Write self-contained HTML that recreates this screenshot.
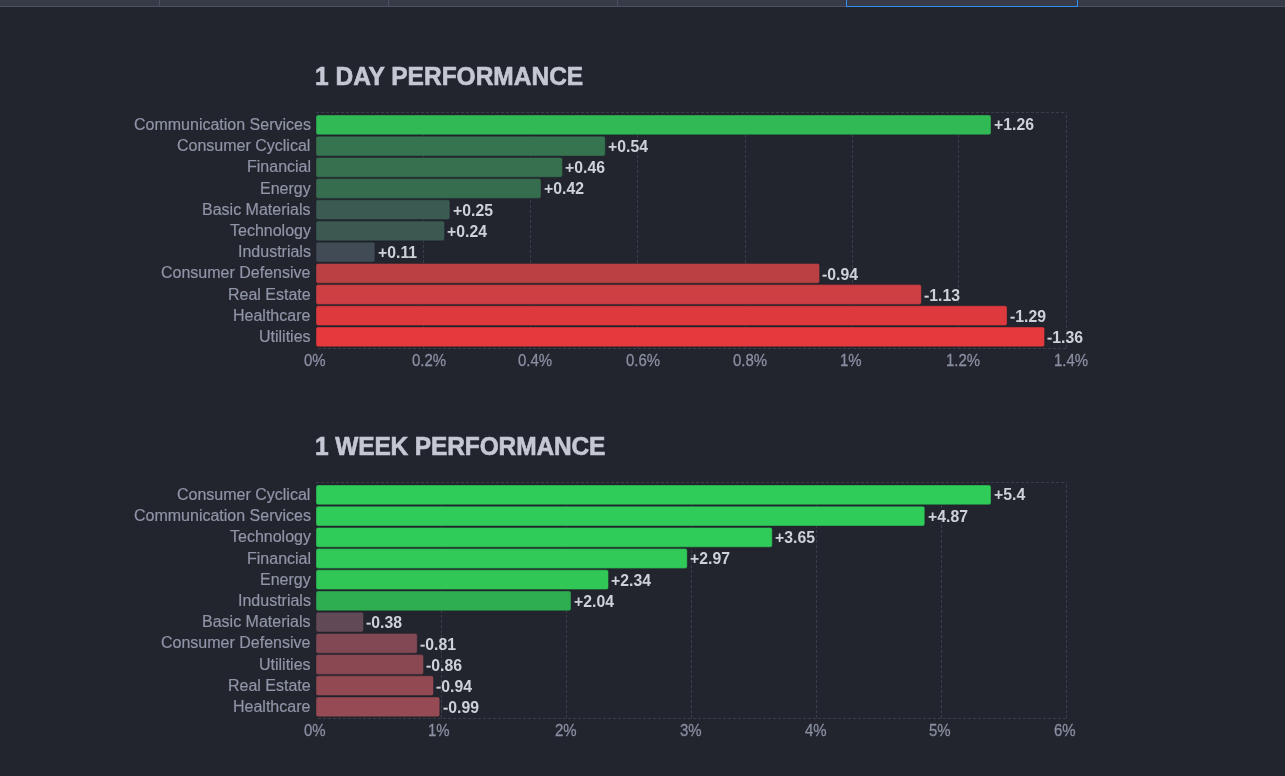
<!DOCTYPE html>
<html><head><meta charset="utf-8"><style>
html,body{margin:0;padding:0;}
body{width:1285px;height:776px;background:#22252e;position:relative;overflow:hidden;font-family:"Liberation Sans",sans-serif;-webkit-font-smoothing:antialiased;}
.tabs{position:absolute;left:0;top:0;width:1285px;height:6px;background:#373a47;border-bottom:1px solid #4b4f61;}
.dv{position:absolute;top:0;width:1px;height:6px;background:#4b4f61;}
.act{position:absolute;top:0;left:846px;width:230px;height:6px;border:1px solid #2f90f0;border-top:0;}
.title{position:absolute;left:315px;font-weight:bold;font-size:24.5px;color:#c5c8d3;line-height:32px;white-space:nowrap;transform:scaleY(1.07);transform-origin:0 24px;-webkit-text-stroke:0.6px #c5c8d3;}
.lab{position:absolute;right:974.3px;font-size:16px;line-height:22px;color:#9095a8;-webkit-text-stroke:0.2px #9095a8;white-space:nowrap;text-align:right;}
.val{position:absolute;font-size:15.8px;font-weight:bold;line-height:22px;color:#cfd1d9;white-space:nowrap;transform:scaleY(1.04);transform-origin:0 16px;}
.tick{position:absolute;font-size:15px;line-height:22px;color:#8a8fa2;white-space:nowrap;transform:scaleY(1.1);transform-origin:0 16px;-webkit-text-stroke:0.25px #8a8fa2;}
.c .g{stroke:#3a3e4b;stroke-width:1;stroke-dasharray:3 2;fill:none;}
span.mn{font-weight:normal;-webkit-text-stroke:0.3px #cfd1d9;} .c .b{stroke:#1e2029;stroke-width:0.4;}
svg{z-index:0} div{z-index:1} .title,.lab,.val,.tick{will-change:transform;}
</style></head><body>
<div class="tabs"></div>
<div class="dv" style="left:159px"></div>
<div class="dv" style="left:388px"></div>
<div class="dv" style="left:617px"></div>
<div class="act"></div>
<div class="title" style="top:61px;letter-spacing:0px">1 DAY PERFORMANCE</div>
<div class="lab" style="top:114.00px">Communication Services</div>
<div class="val" style="top:114.40px;left:993.80px">+1.26</div>
<div class="lab" style="top:135.20px">Consumer Cyclical</div>
<div class="val" style="top:135.70px;left:608.09px">+0.54</div>
<div class="lab" style="top:156.40px">Financial</div>
<div class="val" style="top:157.00px;left:565.23px">+0.46</div>
<div class="lab" style="top:177.60px">Energy</div>
<div class="val" style="top:178.30px;left:543.80px">+0.42</div>
<div class="lab" style="top:198.80px">Basic Materials</div>
<div class="val" style="top:199.60px;left:452.73px">+0.25</div>
<div class="lab" style="top:220.00px">Technology</div>
<div class="val" style="top:220.90px;left:447.37px">+0.24</div>
<div class="lab" style="top:241.20px">Industrials</div>
<div class="val" style="top:242.20px;left:377.73px">+0.11</div>
<div class="lab" style="top:262.40px">Consumer Defensive</div>
<div class="val" style="top:263.50px;left:822.37px"><span class="mn">-</span>0.94</div>
<div class="lab" style="top:283.60px">Real Estate</div>
<div class="val" style="top:284.80px;left:924.16px"><span class="mn">-</span>1.13</div>
<div class="lab" style="top:304.80px">Healthcare</div>
<div class="val" style="top:306.10px;left:1009.87px"><span class="mn">-</span>1.29</div>
<div class="lab" style="top:326.00px">Utilities</div>
<div class="val" style="top:327.40px;left:1047.37px"><span class="mn">-</span>1.36</div>
<div class="tick" style="top:350px;left:303.50px">0%</div>
<div class="tick" style="top:350px;left:411.90px">0.2%</div>
<div class="tick" style="top:350px;left:518.30px">0.4%</div>
<div class="tick" style="top:350px;left:625.70px">0.6%</div>
<div class="tick" style="top:350px;left:733.20px">0.8%</div>
<div class="tick" style="top:350px;left:839.50px">1%</div>
<div class="tick" style="top:350px;left:946.10px">1.2%</div>
<div class="tick" style="top:350px;left:1053.50px">1.4%</div>
<svg class="c" width="1285" height="776" style="position:absolute;left:0;top:0"><line x1="423.5" y1="112.5" x2="423.5" y2="349" class="g" stroke-dashoffset="2.5"/><line x1="530.5" y1="112.5" x2="530.5" y2="349" class="g" stroke-dashoffset="2.5"/><line x1="637.5" y1="112.5" x2="637.5" y2="349" class="g" stroke-dashoffset="2.5"/><line x1="745.5" y1="112.5" x2="745.5" y2="349" class="g" stroke-dashoffset="2.5"/><line x1="852.5" y1="112.5" x2="852.5" y2="349" class="g" stroke-dashoffset="2.5"/><line x1="958.5" y1="112.5" x2="958.5" y2="349" class="g" stroke-dashoffset="2.5"/><line x1="1066.5" y1="112.5" x2="1066.5" y2="349" class="g" stroke-dashoffset="2.5"/><line x1="316" y1="112.5" x2="1067" y2="112.5" class="g"/><line x1="316" y1="348.5" x2="1067" y2="348.5" class="g" stroke-dashoffset="3"/><rect x="316.0" y="115.00" width="675.00" height="19.8" rx="2" fill="#31b955" class="b"/><rect x="316.0" y="136.20" width="289.29" height="19.8" rx="2" fill="#36744f" class="b"/><rect x="316.0" y="157.40" width="246.43" height="19.8" rx="2" fill="#37704f" class="b"/><rect x="316.0" y="178.60" width="225.00" height="19.8" rx="2" fill="#376d4f" class="b"/><rect x="316.0" y="199.80" width="133.93" height="19.8" rx="2" fill="#3b5a51" class="b"/><rect x="316.0" y="221.00" width="128.57" height="19.8" rx="2" fill="#3b5951" class="b"/><rect x="316.0" y="242.20" width="58.93" height="19.8" rx="2" fill="#404b55" class="b"/><rect x="316.0" y="263.40" width="503.57" height="19.8" rx="2" fill="#bb4044" class="b"/><rect x="316.0" y="284.60" width="605.36" height="19.8" rx="2" fill="#cd3f43" class="b"/><rect x="316.0" y="305.80" width="691.07" height="19.8" rx="2" fill="#de3a3e" class="b"/><rect x="316.0" y="327.00" width="728.57" height="19.8" rx="2" fill="#e4393d" class="b"/></svg>
<div class="title" style="top:431px;letter-spacing:-0.13px">1 WEEK PERFORMANCE</div>
<div class="lab" style="top:484.00px">Consumer Cyclical</div>
<div class="val" style="top:484.40px;left:993.80px">+5.4</div>
<div class="lab" style="top:505.20px">Communication Services</div>
<div class="val" style="top:505.70px;left:927.55px">+4.87</div>
<div class="lab" style="top:526.40px">Technology</div>
<div class="val" style="top:527.00px;left:775.05px">+3.65</div>
<div class="lab" style="top:547.60px">Financial</div>
<div class="val" style="top:548.30px;left:690.05px">+2.97</div>
<div class="lab" style="top:568.80px">Energy</div>
<div class="val" style="top:569.60px;left:611.30px">+2.34</div>
<div class="lab" style="top:590.00px">Industrials</div>
<div class="val" style="top:590.90px;left:573.80px">+2.04</div>
<div class="lab" style="top:611.20px">Basic Materials</div>
<div class="val" style="top:612.20px;left:366.30px"><span class="mn">-</span>0.38</div>
<div class="lab" style="top:632.40px">Consumer Defensive</div>
<div class="val" style="top:633.50px;left:420.05px"><span class="mn">-</span>0.81</div>
<div class="lab" style="top:653.60px">Utilities</div>
<div class="val" style="top:654.80px;left:426.30px"><span class="mn">-</span>0.86</div>
<div class="lab" style="top:674.80px">Real Estate</div>
<div class="val" style="top:676.10px;left:436.30px"><span class="mn">-</span>0.94</div>
<div class="lab" style="top:696.00px">Healthcare</div>
<div class="val" style="top:697.40px;left:442.55px"><span class="mn">-</span>0.99</div>
<div class="tick" style="top:720px;left:303.60px">0%</div>
<div class="tick" style="top:720px;left:428.40px">1%</div>
<div class="tick" style="top:720px;left:554.60px">2%</div>
<div class="tick" style="top:720px;left:679.70px">3%</div>
<div class="tick" style="top:720px;left:804.80px">4%</div>
<div class="tick" style="top:720px;left:929.20px">5%</div>
<div class="tick" style="top:720px;left:1054.30px">6%</div>
<svg class="c" width="1285" height="776" style="position:absolute;left:0;top:0"><line x1="441.5" y1="482.5" x2="441.5" y2="719" class="g" stroke-dashoffset="2.5"/><line x1="566.5" y1="482.5" x2="566.5" y2="719" class="g" stroke-dashoffset="2.5"/><line x1="691.5" y1="482.5" x2="691.5" y2="719" class="g" stroke-dashoffset="2.5"/><line x1="816.5" y1="482.5" x2="816.5" y2="719" class="g" stroke-dashoffset="2.5"/><line x1="941.5" y1="482.5" x2="941.5" y2="719" class="g" stroke-dashoffset="2.5"/><line x1="1066.5" y1="482.5" x2="1066.5" y2="719" class="g" stroke-dashoffset="2.5"/><line x1="316" y1="482.5" x2="1067" y2="482.5" class="g"/><line x1="316" y1="718.5" x2="1067" y2="718.5" class="g" stroke-dashoffset="3"/><rect x="316.0" y="485.00" width="675.00" height="19.8" rx="2" fill="#30cc5a" class="b"/><rect x="316.0" y="506.20" width="608.75" height="19.8" rx="2" fill="#30cc5a" class="b"/><rect x="316.0" y="527.40" width="456.25" height="19.8" rx="2" fill="#30cc5a" class="b"/><rect x="316.0" y="548.60" width="371.25" height="19.8" rx="2" fill="#30ca59" class="b"/><rect x="316.0" y="569.80" width="292.50" height="19.8" rx="2" fill="#30c757" class="b"/><rect x="316.0" y="591.00" width="255.00" height="19.8" rx="2" fill="#2eae50" class="b"/><rect x="316.0" y="612.20" width="47.50" height="19.8" rx="2" fill="#624956" class="b"/><rect x="316.0" y="633.40" width="101.25" height="19.8" rx="2" fill="#824955" class="b"/><rect x="316.0" y="654.60" width="107.50" height="19.8" rx="2" fill="#8a4853" class="b"/><rect x="316.0" y="675.80" width="117.50" height="19.8" rx="2" fill="#924952" class="b"/><rect x="316.0" y="697.00" width="123.75" height="19.8" rx="2" fill="#964a53" class="b"/></svg>
</body></html>
